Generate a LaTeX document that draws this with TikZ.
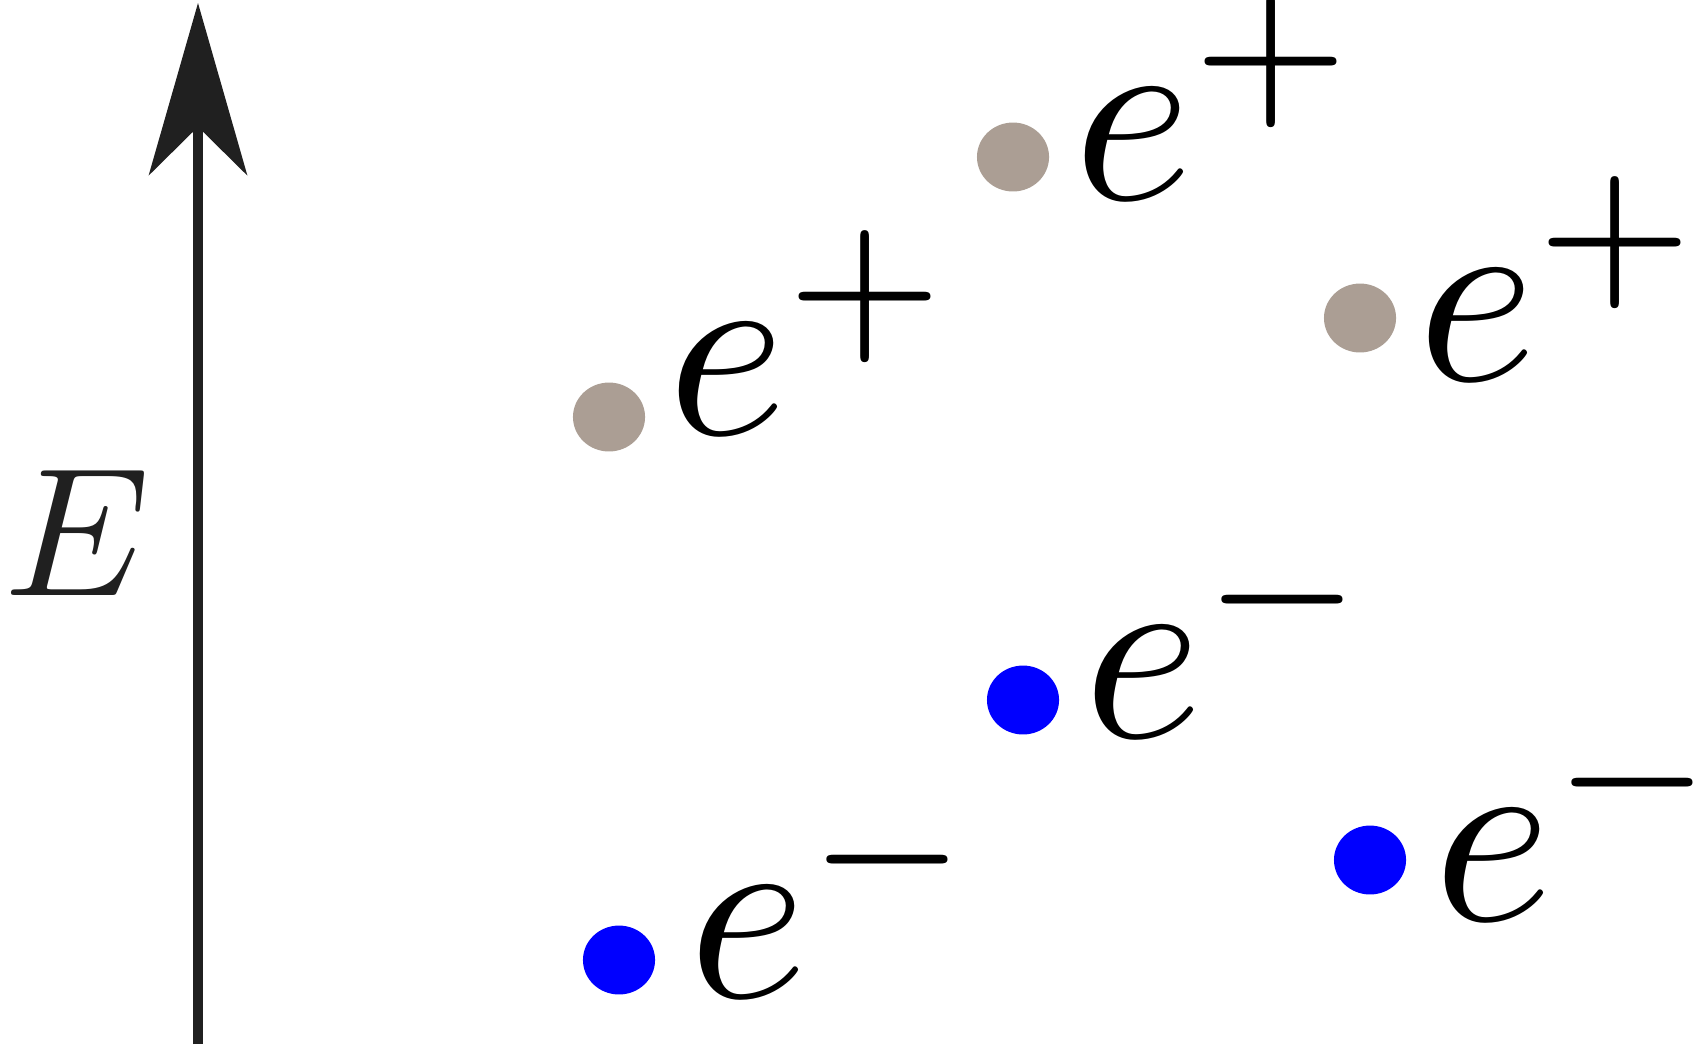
\documentclass[tikz,border=0pt]{standalone}
\usepackage{xcolor}
\usepackage{tikz}
\usetikzlibrary{positioning,shapes.geometric,arrows.meta}
\definecolor{axisgray}{RGB}{32,32,32}
\definecolor{posgray}{RGB}{171,158,148}
\definecolor{eleblue}{RGB}{0,0,255}

\begin{document}
\begin{tikzpicture}[
  x=0.01cm, y=-0.01cm,
  pdot/.style={ellipse, inner sep=0pt, minimum width=20.5pt, minimum height=19.6pt},
  posi/.style={pdot, fill=posgray},
  elec/.style={pdot, fill=eleblue},
  lab/.style={anchor=base west, inner sep=0pt, scale=7.28},
  eaxis/.style={draw=axisgray, line width=2.7pt,
                -{Stealth[length=48.9pt, width=27.9pt, inset=13.7pt]}}
]
  \useasboundingbox (0,0) rectangle (1704,1047);

  % energy axis
  \coordinate (axbot) at (198,1044);
  \coordinate (axtop) at (198,3);
  \draw[eaxis] (axbot) -- (axtop);
  \node[anchor=base west, inner sep=0pt, scale=5.21, text=axisgray] (elab) at (1,595) {$E$};

  % positrons
  \node[posi] (p1) at (609,417) {};
  \node[posi] (p2) at (1013,157) {};
  \node[posi] (p3) at (1360,318) {};
  \node[lab] (lp1) at (662,434) {$e^{+}$};
  \node[lab] (lp2) at (1068,199) {$e^{+}$};
  \node[lab] (lp3) at (1412,380) {$e^{+}$};

  % electrons
  \node[elec] (n1) at (619,960) {};
  \node[elec] (n2) at (1023,700) {};
  \node[elec] (n3) at (1370,860) {};
  \node[lab] (ln1) at (683,997) {$e^{-}$};
  \node[lab] (ln2) at (1078,737) {$e^{-}$};
  \node[lab] (ln3) at (1428,920) {$e^{-}$};
\end{tikzpicture}
\end{document}
